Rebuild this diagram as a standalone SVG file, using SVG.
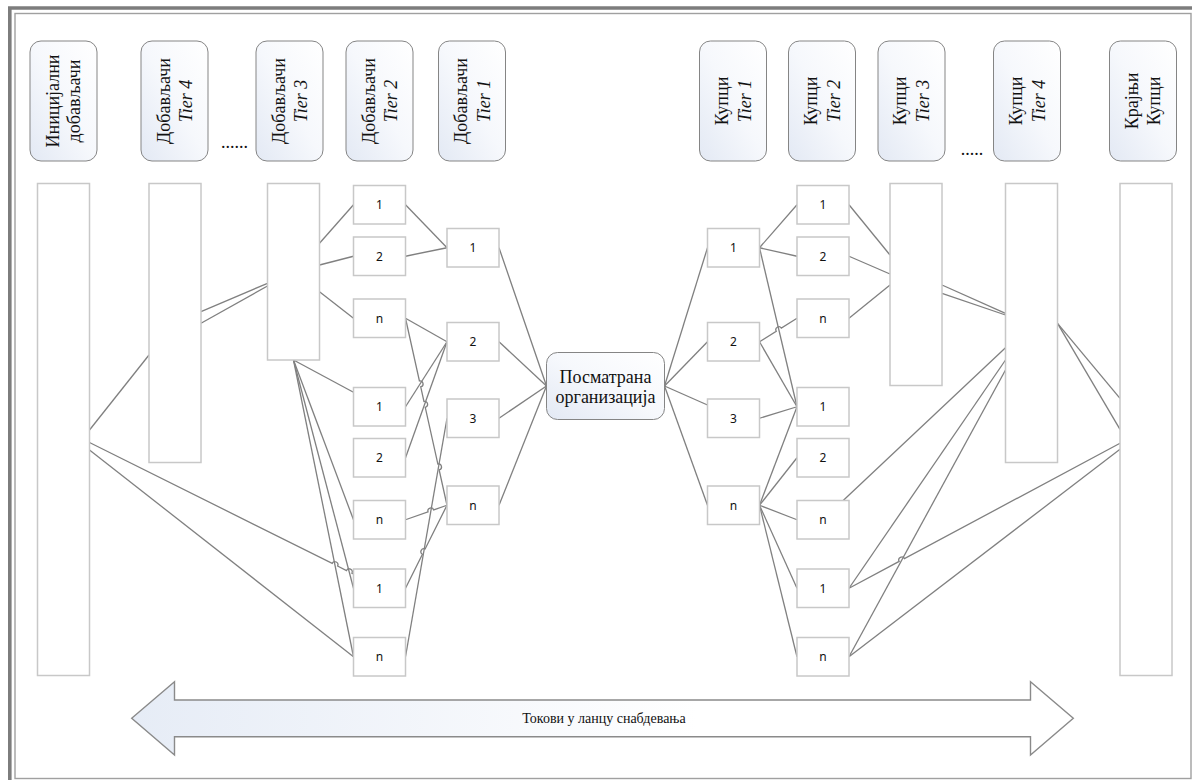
<svg xmlns="http://www.w3.org/2000/svg" width="1192" height="780" viewBox="0 0 1192 780">
  <defs>
    <linearGradient id="hg" x1="0" y1="1" x2="1" y2="0">
      <stop offset="0" stop-color="#e3e9f4"/>
      <stop offset="0.5" stop-color="#f6f8fc"/>
      <stop offset="1" stop-color="#ffffff"/>
    </linearGradient>
    <linearGradient id="ag" x1="0" y1="0" x2="1" y2="0">
      <stop offset="0" stop-color="#e6ecf6"/>
      <stop offset="0.6" stop-color="#ffffff"/>
      <stop offset="1" stop-color="#ffffff"/>
    </linearGradient>
    <style>
      .hdr { fill: url(#hg); stroke: #858585; stroke-width: 1; }
      .big { fill: #ffffff; stroke: #c8c8c8; stroke-width: 1.5; }
      .box { fill: #ffffff; stroke: #c8c8c8; stroke-width: 1.5; }
      .ht { font-family: "Liberation Serif", "Times New Roman", serif; font-size: 18px; fill: #111; text-anchor: middle; }
      .it { font-style: italic; }
      .bt { font-family: "Noto Sans", "Open Sans", sans-serif; font-size: 12px; fill: #111; text-anchor: middle; }
      .cn path { fill: none; stroke: #808080; stroke-width: 1.3; }
    </style>
  </defs>

  <rect width="1192" height="780" fill="#ffffff"/>

  <!-- page frame -->
  <path d="M9.8 780 V8 H1192" fill="none" stroke="#7d7d7d" stroke-width="3.6"/>
  <rect x="15" y="13.5" width="1176" height="765" fill="none" stroke="#a0a0a0" stroke-width="1.4"/>

  <!-- column headers: suppliers -->
  <g id="hdr-initial">
    <rect class="hdr" x="30" y="41" width="67" height="120" rx="11"/>
    <g transform="translate(63.5 101) rotate(-90)">
      <text class="ht" x="0" y="-5">Иницијални</text>
      <text class="ht" x="0" y="16.5">добављачи</text>
    </g>
  </g>
  <g id="hdr-sup-t4">
    <rect class="hdr" x="141" y="41" width="67" height="120" rx="11"/>
    <g transform="translate(174.5 101) rotate(-90)">
      <text class="ht" x="0" y="-5">Добављачи</text>
      <text class="ht it" x="0" y="17.5">Tier 4</text>
    </g>
  </g>
  <text class="ht" x="234.5" y="148">......</text>
  <g id="hdr-sup-t3">
    <rect class="hdr" x="256" y="41" width="67" height="120" rx="11"/>
    <g transform="translate(289.5 101) rotate(-90)">
      <text class="ht" x="0" y="-5">Добављачи</text>
      <text class="ht it" x="0" y="17.5">Tier 3</text>
    </g>
  </g>
  <g id="hdr-sup-t2">
    <rect class="hdr" x="346" y="41" width="67" height="120" rx="11"/>
    <g transform="translate(379.5 101) rotate(-90)">
      <text class="ht" x="0" y="-5">Добављачи</text>
      <text class="ht it" x="0" y="17.5">Tier 2</text>
    </g>
  </g>
  <g id="hdr-sup-t1">
    <rect class="hdr" x="438.5" y="41" width="67" height="120" rx="11"/>
    <g transform="translate(472 101) rotate(-90)">
      <text class="ht" x="0" y="-5">Добављачи</text>
      <text class="ht it" x="0" y="17.5">Tier 1</text>
    </g>
  </g>

  <!-- column headers: customers -->
  <g id="hdr-cus-t1">
    <rect class="hdr" x="699.5" y="41" width="67" height="120" rx="11"/>
    <g transform="translate(733 101) rotate(-90)">
      <text class="ht" x="0" y="-5.5">Купци</text>
      <text class="ht it" x="0" y="17.5">Tier 1</text>
    </g>
  </g>
  <g id="hdr-cus-t2">
    <rect class="hdr" x="788.5" y="41" width="67" height="120" rx="11"/>
    <g transform="translate(822 101) rotate(-90)">
      <text class="ht" x="0" y="-5.5">Купци</text>
      <text class="ht it" x="0" y="17.5">Tier 2</text>
    </g>
  </g>
  <g id="hdr-cus-t3">
    <rect class="hdr" x="878" y="41" width="67" height="120" rx="11"/>
    <g transform="translate(911.5 101) rotate(-90)">
      <text class="ht" x="0" y="-5.5">Купци</text>
      <text class="ht it" x="0" y="17.5">Tier 3</text>
    </g>
  </g>
  <text class="ht" x="972" y="155">.....</text>
  <g id="hdr-cus-t4">
    <rect class="hdr" x="993.5" y="41" width="67" height="120" rx="11"/>
    <g transform="translate(1027 101) rotate(-90)">
      <text class="ht" x="0" y="-5.5">Купци</text>
      <text class="ht it" x="0" y="17.5">Tier 4</text>
    </g>
  </g>
  <g id="hdr-final">
    <rect class="hdr" x="1109.5" y="41" width="67" height="120" rx="11"/>
    <g transform="translate(1143 101) rotate(-90)">
      <text class="ht" x="0" y="-5.5">Крајњи</text>
      <text class="ht" x="0" y="17">Купци</text>
    </g>
  </g>

  <!-- connectors -->
  <g id="connectors" class="cn">
    <!-- supplier side -->
    <path d="M89.5 430 L149 355"/>
    <path d="M89.5 442.5 L332.2 563.39 A3 3 0 0 1 337.58 566.07 L346.51 570.52 A3 3 0 0 1 351.89 573.2 L353.5 574"/>
    <path d="M89.5 450 L353.5 656.75"/>
    <path d="M201 311.7 L267.5 283.3"/>
    <path d="M201 323.3 L267.5 286"/>
    <path d="M319.5 243.3 L353.5 204.75"/>
    <path d="M319.5 265 L353.5 256.25"/>
    <path d="M319.5 291.7 L353.5 318.25"/>
    <path d="M293.5 360 L353.5 392.3"/>
    <path d="M293.5 360 L353.5 519.75"/>
    <path d="M293.5 360 L353.5 588.25"/>
    <path d="M293.5 360 L353.5 656.75"/>
    <path d="M405.5 204.75 L447 247.75"/>
    <path d="M405.5 256.25 L447 247.75"/>
    <path d="M405.5 318.25 L447 341.75"/>
    <path d="M405.5 318.25 L419.42 380.99 A3 3 0 0 1 420.72 386.85 L423.95 401.42 A3 3 0 0 1 425.25 407.28 L437.86 464.08 A3 3 0 0 1 439.16 469.94 L447 505.25"/>
    <path d="M405.5 406.75 L447 341.75"/>
    <path d="M405.5 457.75 L447 341.75"/>
    <path d="M405.5 519.75 L428.05 511.87 A3 3 0 0 1 433.71 509.89 L447 505.25"/>
    <path d="M405.5 656.75 L447 418.25"/>
    <path d="M405.5 588.25 L422.44 554.37 A3 3 0 0 1 425.12 549.01 L447 505.25"/>
    <path d="M499 247.75 L546.5 386"/>
    <path d="M499 341.75 L546.5 386"/>
    <path d="M499 418.25 L546.5 386"/>
    <path d="M499 505.25 L546.5 386"/>
    <!-- customer side -->
    <path d="M664.5 386 L707.5 247.75"/>
    <path d="M664.5 386 L707.5 341.75"/>
    <path d="M664.5 386 L707.5 405"/>
    <path d="M664.5 386 L707.5 505.25"/>
    <path d="M759.5 247.75 L797 204.75"/>
    <path d="M759.5 247.75 L797 256.25"/>
    <path d="M759.5 247.75 L797 406.75"/>
    <path d="M759.5 341.75 L776.27 331.24 A3 3 0 0 1 781.35 328.06 L797 318.25"/>
    <path d="M759.5 341.75 L797 406.75"/>
    <path d="M759.5 418.25 L797 406.75"/>
    <path d="M759.5 505.25 L797 406.75"/>
    <path d="M759.5 505.25 L797 457.75"/>
    <path d="M759.5 505.25 L797 519.75"/>
    <path d="M759.5 505.25 L797 588.25"/>
    <path d="M759.5 505.25 L797 656.75"/>
    <path d="M849 204.75 L890 255"/>
    <path d="M849 256.25 L890 274"/>
    <path d="M849 318.25 L890 285"/>
    <path d="M942 285 L1005.5 313.3"/>
    <path d="M942 293.3 L1005.5 315"/>
    <path d="M1005.5 347.7 L843.2 500.5"/>
    <path d="M1005.5 360 L849 588.25"/>
    <path d="M1005.5 370 L849 656.75"/>
    <path d="M1057.5 323.3 L1120 398.3"/>
    <path d="M1057.5 323.3 L1120 429.3"/>
    <path d="M1120 443.3 L904.44 558.59 A3 3 0 0 0 899.14 561.43 L849 588.25"/>
    <path d="M1120 449.3 L849 656.75"/>
  </g>

  <!-- supplier tiers -->
  <g id="sup-initial"><rect class="big" x="37.5" y="183.5" width="52" height="492"/></g>
  <g id="sup-t4"><rect class="big" x="149" y="183.5" width="52" height="279"/></g>
  <g id="sup-t3"><rect class="big" x="267.5" y="183.5" width="52" height="176.5"/></g>

  <g id="sup-t2-1a"><rect class="box" x="353.5" y="185.5" width="52" height="38.5"/><text class="bt" x="379.5" y="209">1</text></g>
  <g id="sup-t2-2a"><rect class="box" x="353.5" y="237" width="52" height="38.5"/><text class="bt" x="379.5" y="260.5">2</text></g>
  <g id="sup-t2-na"><rect class="box" x="353.5" y="299" width="52" height="38.5"/><text class="bt" x="379.5" y="322.5">n</text></g>
  <g id="sup-t2-1b"><rect class="box" x="353.5" y="387.5" width="52" height="38.5"/><text class="bt" x="379.5" y="411">1</text></g>
  <g id="sup-t2-2b"><rect class="box" x="353.5" y="438.5" width="52" height="38.5"/><text class="bt" x="379.5" y="462">2</text></g>
  <g id="sup-t2-nb"><rect class="box" x="353.5" y="500.5" width="52" height="38.5"/><text class="bt" x="379.5" y="524">n</text></g>
  <g id="sup-t2-1c"><rect class="box" x="353.5" y="569" width="52" height="38.5"/><text class="bt" x="379.5" y="592.5">1</text></g>
  <g id="sup-t2-nc"><rect class="box" x="353.5" y="637.5" width="52" height="38.5"/><text class="bt" x="379.5" y="661">n</text></g>

  <g id="sup-t1-1"><rect class="box" x="447" y="228.5" width="52" height="38.5"/><text class="bt" x="473" y="252">1</text></g>
  <g id="sup-t1-2"><rect class="box" x="447" y="322.5" width="52" height="38.5"/><text class="bt" x="473" y="346">2</text></g>
  <g id="sup-t1-3"><rect class="box" x="447" y="399" width="52" height="38.5"/><text class="bt" x="473" y="422.5">3</text></g>
  <g id="sup-t1-n"><rect class="box" x="447" y="486" width="52" height="38.5"/><text class="bt" x="473" y="509.5">n</text></g>

  <!-- focal company -->
  <g id="focal">
    <rect class="hdr" x="546.5" y="352.5" width="118" height="67" rx="11"/>
    <text class="ht" x="605.5" y="382.5">Посматрана</text>
    <text class="ht" x="605.5" y="402.5">организација</text>
  </g>

  <!-- customer tiers -->
  <g id="cus-t1-1"><rect class="box" x="707.5" y="228.5" width="52" height="38.5"/><text class="bt" x="733.5" y="252">1</text></g>
  <g id="cus-t1-2"><rect class="box" x="707.5" y="322.5" width="52" height="38.5"/><text class="bt" x="733.5" y="346">2</text></g>
  <g id="cus-t1-3"><rect class="box" x="707.5" y="399" width="52" height="38.5"/><text class="bt" x="733.5" y="422.5">3</text></g>
  <g id="cus-t1-n"><rect class="box" x="707.5" y="486" width="52" height="38.5"/><text class="bt" x="733.5" y="509.5">n</text></g>

  <g id="cus-t2-1a"><rect class="box" x="797" y="185.5" width="52" height="38.5"/><text class="bt" x="823" y="209">1</text></g>
  <g id="cus-t2-2a"><rect class="box" x="797" y="237" width="52" height="38.5"/><text class="bt" x="823" y="260.5">2</text></g>
  <g id="cus-t2-na"><rect class="box" x="797" y="299" width="52" height="38.5"/><text class="bt" x="823" y="322.5">n</text></g>
  <g id="cus-t2-1b"><rect class="box" x="797" y="387.5" width="52" height="38.5"/><text class="bt" x="823" y="411">1</text></g>
  <g id="cus-t2-2b"><rect class="box" x="797" y="438.5" width="52" height="38.5"/><text class="bt" x="823" y="462">2</text></g>
  <g id="cus-t2-nb"><rect class="box" x="797" y="500.5" width="52" height="38.5"/><text class="bt" x="823" y="524">n</text></g>
  <g id="cus-t2-1c"><rect class="box" x="797" y="569" width="52" height="38.5"/><text class="bt" x="823" y="592.5">1</text></g>
  <g id="cus-t2-nc"><rect class="box" x="797" y="637.5" width="52" height="38.5"/><text class="bt" x="823" y="661">n</text></g>

  <g id="cus-t3"><rect class="big" x="890" y="183.5" width="52" height="202"/></g>
  <g id="cus-t4"><rect class="big" x="1005.5" y="183.5" width="52" height="279"/></g>
  <g id="cus-final"><rect class="big" x="1120" y="183.5" width="52" height="492"/></g>

  <!-- flow arrow -->
  <g id="flow">
    <path d="M131.7 718.3 L174.5 681.7 V700 H1030.5 V681.7 L1073.3 718.3 L1030.5 755 V736.7 H174.5 V755 Z" fill="url(#ag)" stroke="#8a8a8a" stroke-width="1.4" stroke-linejoin="miter"/>
    <text x="604" y="723" font-family="Liberation Serif, Times New Roman, serif" font-size="14" fill="#111" text-anchor="middle">Токови у ланцу снабдевања</text>
  </g>
</svg>
